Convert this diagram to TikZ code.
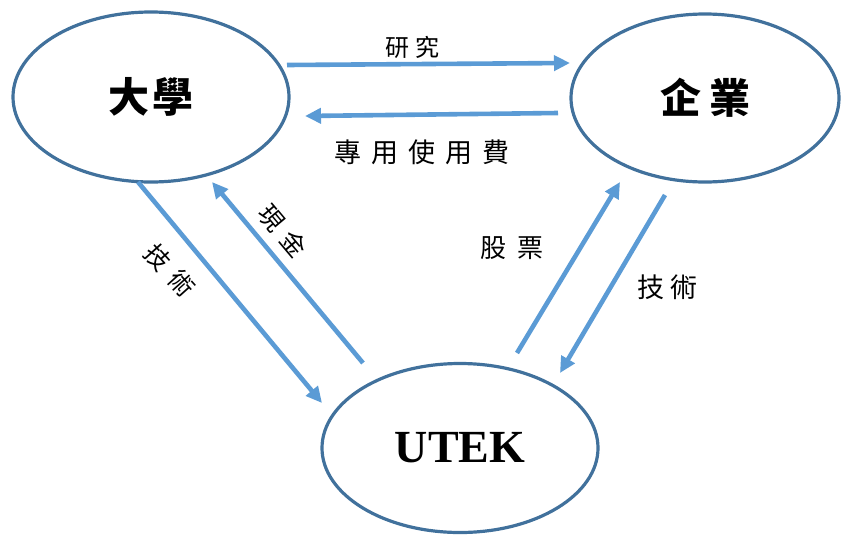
\documentclass[tikz,border=0pt]{standalone}
\usepackage{fontspec}
\setmainfont{Liberation Serif}
\newfontfamily\cjk{Noto Sans CJK TC}
\usetikzlibrary{shapes.geometric,arrows.meta}
\definecolor{ringblue}{HTML}{41719C}
\definecolor{arrowblue}{HTML}{5B9BD5}
\tikzset{
  ring/.style={ellipse, draw=ringblue, line width=3.2pt, inner sep=0pt, fill=white},
  flow/.style={draw=arrowblue, line width=4.6pt, -{Triangle[length=16pt,width=15pt]}},
  lab/.style={inner sep=0pt, font=\cjk\fontsize{26}{30}\selectfont},
  bigcjk/.style={font=\cjk\bfseries\fontsize{41}{46}\selectfont},
}
\begin{document}
\begin{tikzpicture}[x=1pt,y=-1pt]
\useasboundingbox (0,0) rectangle (841,536);
% ellipses
\node[ring, minimum width=276pt, minimum height=170pt, bigcjk] (dx) at (151,97) {大\hspace{4pt}學};
\node[ring, minimum width=268pt, minimum height=168pt, bigcjk] (qy) at (705,98) {企\hspace{8pt}業};
\node[ring, minimum width=276pt, minimum height=169pt, font=\bfseries\fontsize{46}{50}\selectfont] (ut) at (460,448) {UTEK};
% endpoints
\coordinate (a1s) at (287,65);  \coordinate (a1e) at (570,63);
\coordinate (a2s) at (558,113); \coordinate (a2e) at (305,116);
\coordinate (a3s) at (138,182); \coordinate (a3e) at (322,403);
\coordinate (a4s) at (363,363); \coordinate (a4e) at (212,182);
\coordinate (a5s) at (517,353); \coordinate (a5e) at (620,182);
\coordinate (a6s) at (665,195); \coordinate (a6e) at (560,373);
% arrows
\draw[flow] (a1s) -- (a1e);
\draw[flow] (a2s) -- (a2e);
\draw[flow] (a3s) -- (a3e);
\draw[flow] (a4s) -- (a4e);
\draw[flow] (a5s) -- (a5e);
\draw[flow] (a6s) -- (a6e);
% labels
\node[lab, font=\cjk\fontsize{24}{28}\selectfont] (l1) at (412,47) {研\hspace{6pt}究};
\node[lab, font=\cjk\fontsize{27}{30}\selectfont] (l2) at (422,152) {專\hspace{10pt}用\hspace{10pt}使\hspace{10pt}用\hspace{10pt}費};
\node[lab] (l3) at (512,248) {股\hspace{12pt}票};
\node[lab, font=\cjk\fontsize{27}{30}\selectfont] (l4) at (667,287) {技\hspace{6pt}術};
\node[lab, font=\cjk\fontsize{25}{30}\selectfont, rotate=-48] (l5) at (170,270) {技\hspace{10pt}術};
\node[lab, font=\cjk\fontsize{25}{30}\selectfont, rotate=-50] (l6) at (283,231) {現\hspace{10pt}金};
\end{tikzpicture}
\end{document}
